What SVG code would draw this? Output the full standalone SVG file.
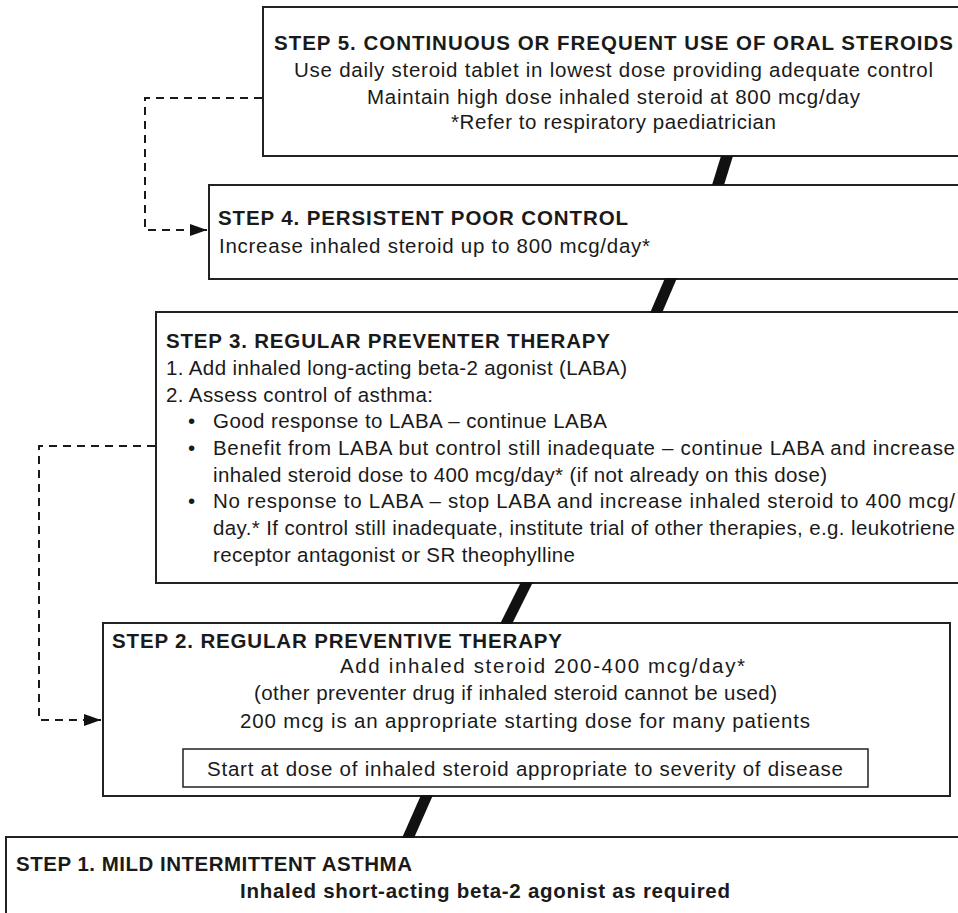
<svg xmlns="http://www.w3.org/2000/svg" width="958" height="913" viewBox="0 0 958 913">
  <style>
    .box { fill: #ffffff; stroke: #222222; stroke-width: 2; }
    .inner { fill: #ffffff; stroke: #222222; stroke-width: 1.5; }
    text { font-family: "Liberation Sans", Arial, Helvetica, sans-serif; font-size: 20.5px; fill: #1a1a1a; }
    .hd { font-weight: bold; }
    .dash { fill: none; stroke: #1a1a1a; stroke-width: 2; stroke-dasharray: 8 6; }
    .bar { fill: #111111; }
  </style>
  <defs>
    <marker id="arrow" markerUnits="userSpaceOnUse" markerWidth="18" markerHeight="12" refX="17" refY="6" orient="auto">
      <path d="M0,0 L17,6 L0,12 Z" fill="#111111"/>
    </marker>
  </defs>

  <rect width="958" height="913" fill="#ffffff"/>

  <!-- Step 5 -->
  <g id="step5">
    <rect class="box" x="263" y="7" width="720" height="149"/>
    <text class="hd" x="274" y="50" textLength="679" lengthAdjust="spacing">STEP 5. CONTINUOUS OR FREQUENT USE OF ORAL STEROIDS</text>
    <text x="294" y="77" textLength="639" lengthAdjust="spacing">Use daily steroid tablet in lowest dose providing adequate control</text>
    <text x="367" y="103.5" textLength="493" lengthAdjust="spacing">Maintain high dose inhaled steroid at 800 mcg/day</text>
    <text x="451" y="129" textLength="325" lengthAdjust="spacing">*Refer to respiratory paediatrician</text>
  </g>

  <!-- Step 4 -->
  <g id="step4">
    <rect class="box" x="209" y="185" width="770" height="94"/>
    <text class="hd" x="218" y="225" textLength="410" lengthAdjust="spacing">STEP 4. PERSISTENT POOR CONTROL</text>
    <text x="219" y="252.5" textLength="431" lengthAdjust="spacing">Increase inhaled steroid up to 800 mcg/day*</text>
  </g>

  <!-- Step 3 -->
  <g id="step3">
    <rect class="box" x="156" y="312" width="820" height="271"/>
    <text class="hd" x="166" y="348" textLength="444" lengthAdjust="spacing">STEP 3. REGULAR PREVENTER THERAPY</text>
    <text x="166" y="375" textLength="461" lengthAdjust="spacing">1. Add inhaled long-acting beta-2 agonist (LABA)</text>
    <text x="166" y="402" textLength="267" lengthAdjust="spacing">2. Assess control of asthma:</text>
    <text x="188" y="428">•</text>
    <text x="213" y="428" textLength="394" lengthAdjust="spacing">Good response to LABA – continue LABA</text>
    <text x="188" y="455">•</text>
    <text x="213" y="455" textLength="742" lengthAdjust="spacing">Benefit from LABA but control still inadequate – continue LABA and increase</text>
    <text x="213" y="482" textLength="614" lengthAdjust="spacing">inhaled steroid dose to 400 mcg/day* (if not already on this dose)</text>
    <text x="188" y="508">•</text>
    <text x="213" y="508" textLength="742" lengthAdjust="spacing">No response to LABA – stop LABA and increase inhaled steroid to 400 mcg/</text>
    <text x="213" y="535" textLength="742" lengthAdjust="spacing">day.* If control still inadequate, institute trial of other therapies, e.g. leukotriene</text>
    <text x="213" y="562" textLength="362" lengthAdjust="spacing">receptor antagonist or SR theophylline</text>
  </g>

  <!-- Step 2 -->
  <g id="step2">
    <rect class="box" x="103" y="623" width="847" height="173"/>
    <text class="hd" x="112" y="648" textLength="450" lengthAdjust="spacing">STEP 2. REGULAR PREVENTIVE THERAPY</text>
    <text x="340" y="673" textLength="405" lengthAdjust="spacing">Add inhaled steroid 200-400 mcg/day*</text>
    <text x="254" y="700" textLength="523" lengthAdjust="spacing">(other preventer drug if inhaled steroid cannot be used)</text>
    <text x="240" y="728" textLength="570" lengthAdjust="spacing">200 mcg is an appropriate starting dose for many patients</text>
    <rect class="inner" x="183" y="749" width="685" height="38"/>
    <text x="207" y="776" textLength="636" lengthAdjust="spacing">Start at dose of inhaled steroid appropriate to severity of disease</text>
  </g>

  <!-- Step 1 -->
  <g id="step1">
    <rect class="box" x="6" y="837" width="980" height="100"/>
    <text class="hd" x="16" y="871" textLength="396" lengthAdjust="spacing">STEP 1. MILD INTERMITTENT ASTHMA</text>
    <text class="hd" x="240" y="898" textLength="490" lengthAdjust="spacing">Inhaled short-acting beta-2 agonist as required</text>
  </g>

  <!-- Connectors: step bars and dashed return arrows -->
  <g id="connectors">
    <polygon class="bar" points="721,156 733,156 724,185 712,185"/>
    <polygon class="bar" points="665,278 677,278 662,313 650,313"/>
    <polygon class="bar" points="521,582 533,582 512,624 500,624"/>
    <polygon class="bar" points="421,795 433,795 414,838 402,838"/>
    <path class="dash" d="M262,98 H145 V230 H207" marker-end="url(#arrow)"/>
    <path class="dash" d="M155,446 H39 V720 H101" marker-end="url(#arrow)"/>
  </g>
</svg>
